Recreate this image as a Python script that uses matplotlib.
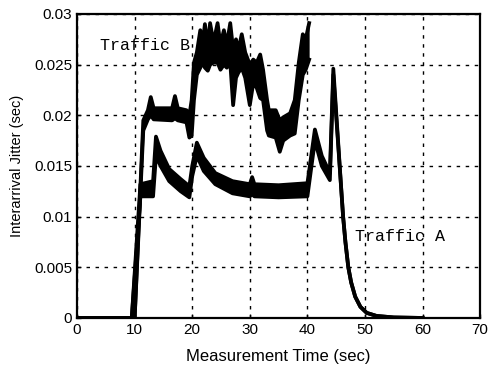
import numpy as np
import matplotlib
matplotlib.use('Agg')
import matplotlib.pyplot as plt

plt.rcParams['font.family'] = ['Liberation Sans', 'DejaVu Sans']

# Traffic A: time and lower/upper edge of the noisy band
a_t = [0, 9.5, 11.0, 13.2, 13.7, 14.5, 16.0, 18.0, 19.5, 20.0, 20.8, 22.0, 24.0, 27.0,
       30.0, 30.4, 30.8, 35.0, 40.0, 41.3, 42.5, 43.9, 44.5, 45.9, 46.2, 46.6, 47.1,
       47.6, 48.3, 49.2, 50.3, 52.0, 55.0, 60.0]
a_lo = [0, 0, 0.0120, 0.0120, 0.0160, 0.0150, 0.0135, 0.0125, 0.0119, 0.0140, 0.0160,
        0.0145, 0.0132, 0.0123, 0.0120, 0.0122, 0.0120, 0.0119, 0.0120, 0.0175, 0.0150,
        0.0136, 0.0240, 0.0125, 0.0100, 0.0075, 0.0050, 0.0035, 0.0021, 0.0011, 0.0005,
        0.0002, 0.00005, 0]
a_hi = [0, 0, 0.0132, 0.0135, 0.0179, 0.0165, 0.0147, 0.0137, 0.0130, 0.0150, 0.0173,
        0.0158, 0.0143, 0.0135, 0.0132, 0.0139, 0.0132, 0.0131, 0.0133, 0.0186, 0.0160,
        0.0143, 0.0246, 0.0125, 0.0100, 0.0075, 0.0050, 0.0035, 0.0021, 0.0011, 0.0005,
        0.0002, 0.00005, 0]

# Traffic B
b_t = [0, 10.0, 11.5, 12.3, 12.8, 13.3, 16.5, 17.0, 17.5, 19.0, 19.5, 19.9, 20.3, 20.8,
       21.4, 21.8, 22.2, 22.7, 23.1, 23.7, 24.4, 24.9, 25.5, 26.0, 26.6, 27.1, 27.6,
       28.0, 28.6, 29.2, 30.0, 30.6, 31.2, 31.8, 32.3, 33.0, 33.3, 34.5, 35.2, 35.8,
       37.0, 37.8, 38.5, 39.2, 39.7, 40.3]
b_lo = [0, 0, 0.0185, 0.0196, 0.0200, 0.0196, 0.0195, 0.0197, 0.0195, 0.0193, 0.0178,
        0.0180, 0.0215, 0.0240, 0.0247, 0.0252, 0.0247, 0.0244, 0.0250, 0.0252, 0.0252,
        0.0245, 0.0250, 0.0247, 0.0252, 0.0210, 0.0237, 0.0242, 0.0247, 0.0237, 0.0210,
        0.0232, 0.0227, 0.0217, 0.0215, 0.0185, 0.0180, 0.0178, 0.0164, 0.0175, 0.0180,
        0.0182, 0.0215, 0.0240, 0.0245, 0.0255]
b_hi = [0, 0, 0.0195, 0.0205, 0.0218, 0.0207, 0.0207, 0.0219, 0.0207, 0.0205, 0.0200,
        0.0215, 0.0252, 0.0262, 0.0284, 0.0270, 0.0290, 0.0268, 0.0291, 0.0272, 0.0291,
        0.0270, 0.0284, 0.0270, 0.0291, 0.0265, 0.0275, 0.0264, 0.0280, 0.0262, 0.0250,
        0.0255, 0.0252, 0.0260, 0.0245, 0.0215, 0.0205, 0.0205, 0.0195, 0.0198, 0.0202,
        0.0215, 0.0252, 0.0280, 0.0275, 0.0291]

xticks = [0, 10, 20, 30, 40, 50, 60, 70]
yticks = [0, 0.005, 0.01, 0.015, 0.02, 0.025, 0.03]
ylabels = ['0', '0.005', '0.01', '0.015', '0.02', '0.025', '0.03']

fig = plt.figure(figsize=(4.94, 3.68), dpi=100)
ax = fig.add_axes([0.156, 0.136, 0.816, 0.826])

for t, lo, hi in [(a_t, a_lo, a_hi), (b_t, b_lo, b_hi)]:
    ax.fill_between(t, lo, hi, color='black', lw=0)
    ax.plot(t, lo, color='black', lw=2.7, solid_joinstyle='round')
    ax.plot(t, hi, color='black', lw=2.7, solid_joinstyle='round')

ax.set_xlim(0, 70)
ax.set_ylim(0, 0.03)
ax.set_xticks(xticks)
ax.set_yticks(yticks)
ax.set_yticklabels(ylabels)
ax.tick_params(direction='in', labelsize=11, length=3, width=1)
ax.grid(True, color='black', linestyle=(0, (2.5, 4)), lw=1)
for s in ax.spines.values():
    s.set_linewidth(1.6)

ax.set_xlabel('Measurement Time (sec)', fontsize=12, labelpad=9)
ax.set_ylabel('Interarrival Jitter (sec)', fontsize=10.5, labelpad=7)

ax.text(4.0, 0.0269, 'Traffic B', family='Liberation Mono', fontsize=12, va='center')
ax.text(48.3, 0.0080, 'Traffic A', family='Liberation Mono', fontsize=12, va='center')

plt.savefig('out.png', dpi=100)
